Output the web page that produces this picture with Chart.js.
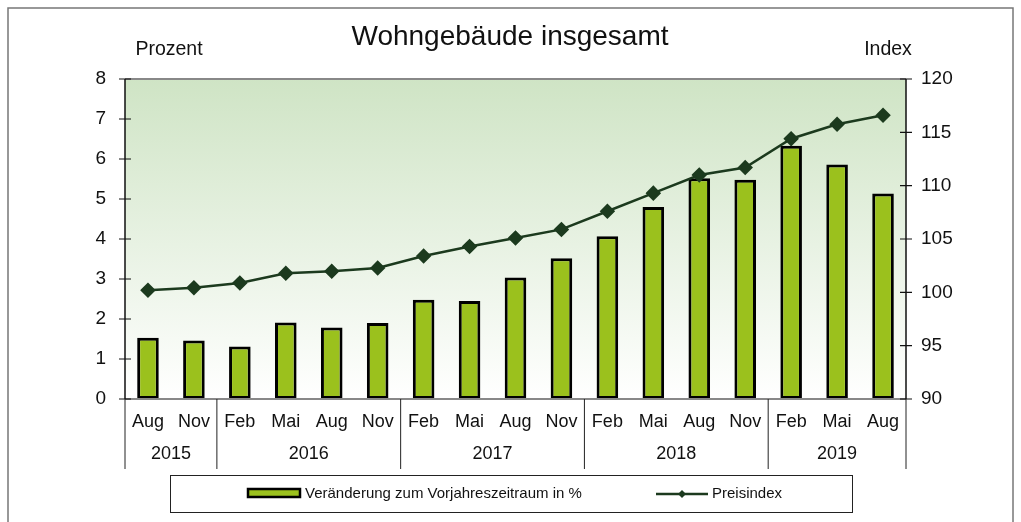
<!DOCTYPE html>
<html>
<head>
<meta charset="utf-8">
<script src="https://cdn.jsdelivr.net/npm/chart.js@4"></script>
<style>
  body { margin: 0; background: #fff; }
  canvas { display: block; }
</style>
</head>
<body>
<canvas id="c" width="1021" height="522"></canvas>
<script>
const months = ['Aug', 'Nov', 'Feb', 'Mai', 'Aug', 'Nov', 'Feb', 'Mai', 'Aug', 'Nov', 'Feb', 'Mai', 'Aug', 'Nov', 'Feb', 'Mai', 'Aug'];
const years = ['2015', '2016', '2017', '2018', '2019'];
const yearSpans = [2, 4, 4, 4, 3];
const change = [1.53, 1.46, 1.31, 1.91, 1.79, 1.90, 2.48, 2.45, 3.04, 3.52, 4.07, 4.80, 5.52, 5.48, 6.33, 5.86, 5.14];
const index = [100.2, 100.43, 100.88, 101.78, 101.97, 102.28, 103.4, 104.3, 105.1, 105.9, 107.6, 109.3, 111.0, 111.7, 114.4, 115.75, 116.6];

const font = '"Liberation Sans", Arial, sans-serif';
const barGreen = '#9bc11d';
const lineGreen = '#1c3a1e';

const decor = {
  id: 'decor',
  beforeDraw(chart) {
    const {ctx, chartArea: a} = chart;
    const g = ctx.createLinearGradient(0, a.top, 0, a.bottom);
    g.addColorStop(0, '#cfe4c5');
    g.addColorStop(1, '#ffffff');
    ctx.save();
    ctx.fillStyle = g;
    ctx.fillRect(a.left, a.top, a.right - a.left, a.bottom - a.top);
    ctx.restore();
  },
  afterDraw(chart) {
    const {ctx, chartArea: a, scales} = chart;
    const x = scales.x, y = scales.y, y2 = scales.y2;
    ctx.save();

    // outer frame
    ctx.strokeStyle = '#777';
    ctx.lineWidth = 1.5;
    ctx.strokeRect(8, 8, 1005, 530);

    // plot borders
    ctx.strokeStyle = '#888';
    ctx.lineWidth = 2;
    ctx.beginPath();
    ctx.moveTo(a.left, a.top); ctx.lineTo(a.right, a.top);
    ctx.stroke();
    ctx.beginPath();
    ctx.moveTo(a.left, a.bottom); ctx.lineTo(a.right, a.bottom);
    ctx.stroke();

    ctx.strokeStyle = '#111';
    ctx.lineWidth = 1.5;
    ctx.beginPath();
    ctx.moveTo(a.left, a.top); ctx.lineTo(a.left, a.bottom);
    ctx.moveTo(a.right, a.top); ctx.lineTo(a.right, a.bottom);
    ctx.stroke();

    // crossing tick marks
    ctx.lineWidth = 1.2;
    ctx.beginPath();
    y.ticks.forEach(t => {
      const py = y.getPixelForValue(t.value);
      ctx.moveTo(a.left - 6, py); ctx.lineTo(a.left + 6, py);
    });
    y2.ticks.forEach(t => {
      const py = y2.getPixelForValue(t.value);
      ctx.moveTo(a.right - 6, py); ctx.lineTo(a.right + 6, py);
    });
    ctx.stroke();

    // category separators and year labels
    const half = (x.getPixelForValue(1) - x.getPixelForValue(0)) / 2;
    ctx.strokeStyle = '#222';
    ctx.lineWidth = 1;
    ctx.fillStyle = '#111';
    ctx.font = '18px ' + font;
    ctx.textAlign = 'center';
    ctx.textBaseline = 'middle';
    let start = 0;
    ctx.beginPath();
    ctx.moveTo(a.left, a.bottom); ctx.lineTo(a.left, 469);
    years.forEach((yr, i) => {
      const end = start + yearSpans[i] - 1;
      const right = x.getPixelForValue(end) + half;
      ctx.moveTo(right, a.bottom); ctx.lineTo(right, 469);
      const cx = (x.getPixelForValue(start) + x.getPixelForValue(end)) / 2;
      ctx.fillText(yr, cx, 454);
      start = end + 1;
    });
    ctx.stroke();

    // titles
    ctx.font = '28px ' + font;
    ctx.fillText('Wohngebäude insgesamt', 510, 37);
    ctx.font = '19.5px ' + font;
    ctx.fillText('Prozent', 169, 50);
    ctx.fillText('Index', 888, 50);

    // legend
    ctx.strokeStyle = '#222';
    ctx.lineWidth = 1;
    ctx.strokeRect(170.5, 475.5, 682, 37);
    ctx.fillStyle = barGreen;
    ctx.fillRect(248, 489, 52, 8);
    ctx.strokeStyle = '#000';
    ctx.lineWidth = 2.5;
    ctx.strokeRect(248, 489, 52, 8);
    ctx.font = '15px ' + font;
    ctx.textAlign = 'left';
    ctx.fillStyle = '#111';
    ctx.fillText('Veränderung zum Vorjahreszeitraum in %', 305, 494);
    ctx.strokeStyle = lineGreen;
    ctx.lineWidth = 2.5;
    ctx.beginPath();
    ctx.moveTo(656, 494); ctx.lineTo(708, 494);
    ctx.stroke();
    ctx.fillStyle = lineGreen;
    ctx.beginPath();
    ctx.moveTo(682, 490); ctx.lineTo(686, 494); ctx.lineTo(682, 498); ctx.lineTo(678, 494);
    ctx.closePath(); ctx.fill();
    ctx.fillStyle = '#111';
    ctx.fillText('Preisindex', 712, 494);

    ctx.restore();
  }
};

new Chart(document.getElementById('c'), {
  data: {
    labels: months,
    datasets: [{
      type: 'line',
      label: 'Preisindex',
      data: index,
      yAxisID: 'y2',
      borderColor: lineGreen,
      backgroundColor: lineGreen,
      borderWidth: 2.5,
      pointStyle: 'rectRot',
      pointRadius: 6,
      pointBackgroundColor: lineGreen,
      pointBorderColor: lineGreen,
      tension: 0,
      order: 0
    }, {
      type: 'bar',
      label: 'Veränderung zum Vorjahreszeitraum in %',
      data: change,
      yAxisID: 'y',
      backgroundColor: barGreen,
      borderColor: '#000',
      borderWidth: 3,
      borderSkipped: false,
      barPercentage: 0.47,
      categoryPercentage: 1,
      order: 1
    }]
  },
  options: {
    responsive: false,
    animation: false,
    layout: {padding: {top: 79, left: 0, right: 0, bottom: 0}},
    plugins: {legend: false, tooltip: false, title: false},
    scales: {
      x: {
        grid: {display: false},
        border: {display: false},
        ticks: {color: '#111', font: {family: font, size: 18}, padding: 4, maxRotation: 0, autoSkip: false},
        afterFit: s => { s.height = 123; }
      },
      y: {
        position: 'left',
        min: 0, max: 8,
        grid: {display: false},
        border: {display: false},
        ticks: {stepSize: 1, color: '#111', font: {family: font, size: 19}, padding: 11},
        afterFit: s => { s.width = 125; }
      },
      y2: {
        position: 'right',
        min: 90, max: 120,
        grid: {display: false},
        border: {display: false},
        ticks: {stepSize: 5, color: '#111', font: {family: font, size: 19}, padding: 7},
        afterFit: s => { s.width = 115; }
      }
    }
  },
  plugins: [decor]
});
</script>
</body>
</html>
